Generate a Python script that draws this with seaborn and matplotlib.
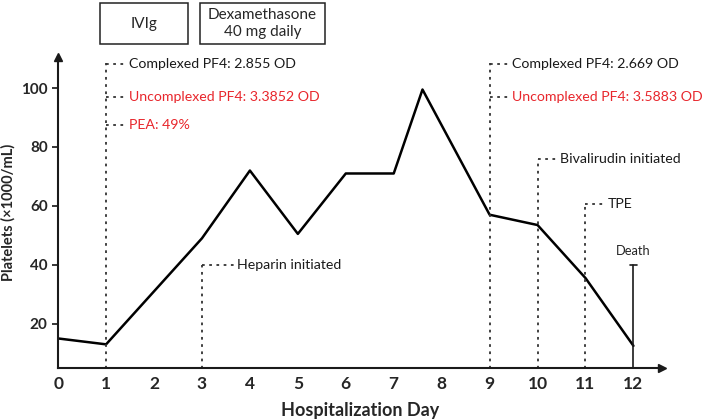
import matplotlib
matplotlib.use("Agg")
import matplotlib.pyplot as plt
from matplotlib.patches import Rectangle
import seaborn as sns

# ── data ────────────────────────────────────────────────────────────────────
days = [0, 1, 2, 3, 4, 5, 6, 7, 7.6, 9, 10, 11, 12]
platelets = [15, 13, 31, 49, 72, 50.5, 71, 71, 99.5, 57, 53.5, 35.5, 12.5]

# dotted event markers: day of the vertical line and its top
event_days = [1, 3, 9, 10, 11]
event_tops = [108.5, 40, 108.5, 76, 60.5]

# labels hanging off the event lines
label_days = [1, 1, 1, 3, 9, 9, 10, 11]
label_y = [108, 97, 87.5, 40, 108, 97, 76, 60.5]
label_text = ["Complexed PF4: 2.855 OD", "Uncomplexed PF4: 3.3852 OD", "PEA: 49%",
              "Heparin initiated", "Complexed PF4: 2.669 OD",
              "Uncomplexed PF4: 3.5883 OD", "Bivalirudin initiated", "TPE"]
label_red = [False, True, True, False, False, True, False, False]

# treatment boxes above the plot
treat_text = ["IVIg", "Dexamethasone\n40 mg daily"]
treat_start = [0.88, 2.96]
treat_end = [2.71, 5.57]

death_day = 12
death_top = 40

RED = "#e8262c"
GREY = "#333333"

sns.set_style("ticks")
plt.rcParams["font.family"] = ["Lato", "DejaVu Sans"]

fig = plt.figure(figsize=(7.09, 4.2), dpi=100)
ax = fig.add_axes([0.082, 0.124, 0.852, 0.740])

sns.lineplot(x=days, y=platelets, ax=ax, color="black", linewidth=1.8)

# event lines + branches
for d, top in zip(event_days, event_tops):
    ax.plot([d, d], [0, top], linestyle=(0, (1.5, 2.5)), color=GREY, lw=1.3)
for d, y, t, red in zip(label_days, label_y, label_text, label_red):
    off = 0.74 if t == "Heparin initiated" else 0.47
    ax.plot([d, d + off - 0.07], [y, y], linestyle=(0, (1.5, 2.5)), color=GREY, lw=1.3)
    ax.text(d + off, y, t, va="center", ha="left", fontsize=10.2,
            color=RED if red else "#1a1a1a")

# death marker
ax.plot([death_day, death_day], [0, death_top], color="#1a1a1a", lw=1.2)
ax.plot([death_day - 0.08, death_day + 0.08], [death_top, death_top], color="#1a1a1a", lw=1.2)
ax.text(death_day, death_top + 2.5, "Death", ha="center", va="bottom", fontsize=9.3)

# treatment boxes
for t, s, e in zip(treat_text, treat_start, treat_end):
    ax.add_patch(Rectangle((s, 115), e - s, 13.8, fill=False, edgecolor="#222222",
                           lw=1.1, clip_on=False))
    ax.text((s + e) / 2, 115 + 6.9, t, ha="center", va="center", fontsize=11,
            linespacing=1.25, clip_on=False)

ax.set_xlim(0, 12.6)
ax.set_ylim(5, 110.5)
ax.set_xticks(range(0, 13))
ax.set_yticks([20, 40, 60, 80, 100])
ax.tick_params(axis="x", length=0, pad=6, labelsize=12.5)
ax.tick_params(axis="y", length=4, width=1.3, labelsize=11)
for lab in ax.get_xticklabels() + ax.get_yticklabels():
    lab.set_fontweight("bold")

ax.set_xlabel("Hospitalization Day", fontsize=13, fontweight="bold", labelpad=7)
ax.set_ylabel("Platelets (\u00d71000/mL)", fontsize=10.5, fontweight="bold")
ax.yaxis.set_label_coords(-0.071, 0.5)

sns.despine(ax=ax)
for sp in ["left", "bottom"]:
    ax.spines[sp].set_linewidth(1.5)
    ax.spines[sp].set_color("#1a1a1a")

# arrow heads at the ends of the axes
ax.plot(1, 0, marker=">", ms=6, color="#1a1a1a", transform=ax.transAxes, clip_on=False)
ax.plot(0, 1, marker="^", ms=6, color="#1a1a1a", transform=ax.transAxes, clip_on=False)

fig.savefig("out.png", dpi=100)
